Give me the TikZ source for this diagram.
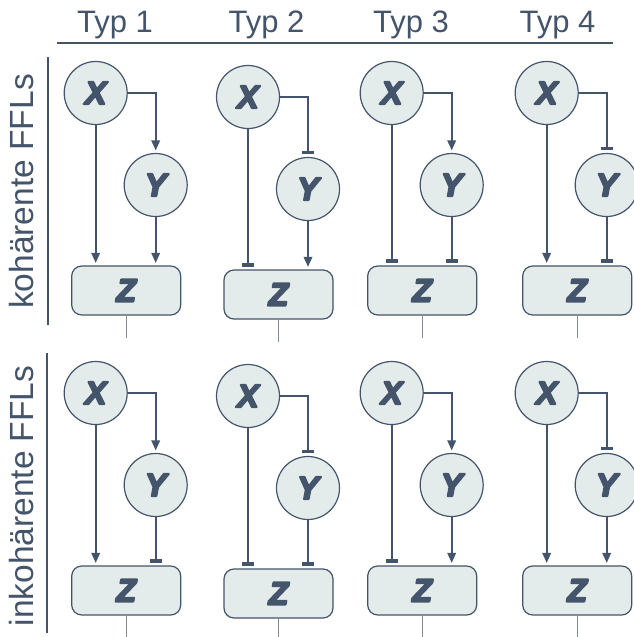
\documentclass[tikz,border=0pt]{standalone}
\usepackage{fontspec}
\setmainfont{Liberation Sans}
\newfontfamily\genefont{Liberation Sans Bold Italic}
\usetikzlibrary{arrows.meta,positioning}
\definecolor{ink}{HTML}{44546A}
\definecolor{cellfill}{HTML}{E4EBEB}
\definecolor{wire}{HTML}{7F8B9B}
\tikzset{
  gene/.style={circle,draw=ink,line width=1.2pt,fill=cellfill,minimum size=63pt,inner sep=0pt,
    text=ink,font=\genefont\fontsize{32}{32}\selectfont},
  target/.style={rectangle,rounded corners=10pt,draw=ink,line width=1.2pt,fill=cellfill,
    minimum width=109pt,minimum height=49pt,inner sep=0pt,
    text=ink,font=\genefont\fontsize{32}{32}\selectfont},
  act/.style={draw=ink,line width=1.8pt,-{Triangle[width=8.5pt,length=10pt]},shorten >=2.5pt},
  inh/.style={draw=ink,line width=1.8pt,-{Bar[width=12pt,line width=3.5pt]},shorten >=2.5pt},
  head/.style={text=ink,font=\fontsize{31}{31}\selectfont,inner sep=0pt,anchor=base},
  side/.style={text=ink,font=\fontsize{33.5}{33.5}\selectfont,inner sep=0pt,anchor=base,rotate=90},
  rule/.style={draw=ink,line width=1.3pt},
  wire/.style={draw=wire,line width=1pt}
}
% heavy letter for the gene names
\newcommand\heavy[1]{\special{pdf:literal direct 2 Tr 2 w 1 j}#1\special{pdf:literal direct 0 Tr}}
\begin{document}
\begin{tikzpicture}[x=1pt,y=-1pt]
\useasboundingbox (0,0) rectangle (633,637);
% column heads
\node[head] (t1) at (115,32) {Typ 1};
\node[head] (t2) at (266.5,32) {Typ 2};
\node[head] (t3) at (411,32) {Typ 3};
\node[head] (t4) at (557.5,32) {Typ 4};
\draw[rule] (57,43) -- (613,43);
% row heads
\node[side] (koh) at (33,191.5) {kohärente FFLs};
\node[side] (inkoh) at (33,496) {inkohärente FFLs};
\draw[rule] (48,57) -- (48,325);
\draw[rule] (47,353) -- (47,633);
% the eight loops: X->Y, X->Z, Y->Z
\foreach \i/\xx/\yy/\ta/\tb/\tc in {
    1/95.7/93/act/act/act, 2/248/97/inh/inh/act, 3/391.7/93/act/inh/inh, 4/546.7/93/inh/act/inh,
    5/95.7/393/act/act/inh, 6/248/396/inh/inh/inh, 7/391.7/393/act/inh/act, 8/546.7/393/inh/act/act}{
  \node[gene] (x\i) at (\xx,\yy) {\heavy{X}};
  \node[gene] (y\i) at (\xx+60,\yy+92) {\heavy{Y}};
  \node[target] (z\i) at (\xx+30.5,\yy+197.5) {\heavy{Z}};
  \coordinate (o\i) at ([yshift=-22pt]z\i.south);
  \draw[\ta] (x\i.east) -| (y\i.north);
  \draw[\tb] (x\i.south) -- (x\i.south |- z\i.north);
  \draw[\tc] (y\i.south) -- (y\i.south |- z\i.north);
  \draw[wire] (z\i.south) -- (o\i);
}
\end{tikzpicture}
\end{document}
